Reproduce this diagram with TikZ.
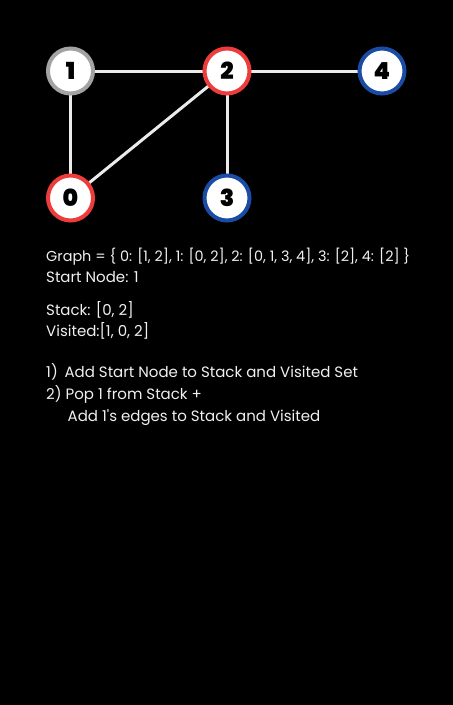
\documentclass[tikz,border=0pt]{standalone}
\usepackage{fontspec}
\setmainfont{Poppins}
\newfontfamily\heavyfont{Poppins}[UprightFont=* Black]
\begin{document}
\begin{tikzpicture}[x=1pt,y=-1pt,
  vtx/.style={circle,fill=white,draw=#1,line width=4pt,minimum size=45pt,inner sep=0pt,
    font=\fontsize{23.5}{23.5}\selectfont\heavyfont,text=black},
  edge/.style={draw=white!92!black,line width=3pt},
  txt/.style={anchor=base west,inner sep=0pt,text=white!94!black,font=\fontsize{15}{18}\selectfont}]
\definecolor{vred}{HTML}{EE3B3B}
\definecolor{vblue}{HTML}{1A4CA6}
\definecolor{vgray}{HTML}{A3A3A3}
\fill[black] (0,0) rectangle (453,705);
\useasboundingbox (0,0) rectangle (453,705);
% vertex positions
\coordinate (p1) at (70.5,71);
\coordinate (p2) at (227,71);
\coordinate (p4) at (382,71);
\coordinate (p0) at (70.5,198);
\coordinate (p3) at (227,198);
% edges
\path[edge] (p1) -- (p2);
\path[edge] (p2) -- (p4);
\path[edge] (p1) -- (p0);
\path[edge] (p2) -- (p3);
\path[edge] (p2) -- (p0);
% vertices over the edges
\node[vtx=vgray] (n1) at (p1) {1};
\node[vtx=vred]  (n2) at (p2) {2};
\node[vtx=vblue] (n4) at (p4) {4};
\node[vtx=vred]  (n0) at (p0) {0};
\node[vtx=vblue] (n3) at (p3) {3};
% description
\node[txt,font=\fontsize{14.4}{18}\selectfont] (g) at (46,261) {Graph = \{ 0: [1, 2], 1: [0, 2], 2: [0, 1, 3, 4], 3: [2], 4: [2] \}};
\node[txt] (s)  at (46,282) {Start Node: 1};
\node[txt] (st) at (46,315) {Stack: [0, 2]};
\node[txt] (vi) at (46,336.5) {Visited:[1, 0, 2]};
\node[txt] (a1) at (46,377.5) {1)\hspace{0.45em}Add Start Node to Stack and Visited Set};
\node[txt] (a2) at (46,399) {2) Pop 1 from Stack +};
\node[txt] (a3) at (67.5,421) {Add 1\textquotesingle s edges to Stack and Visited};
\end{tikzpicture}
\end{document}
